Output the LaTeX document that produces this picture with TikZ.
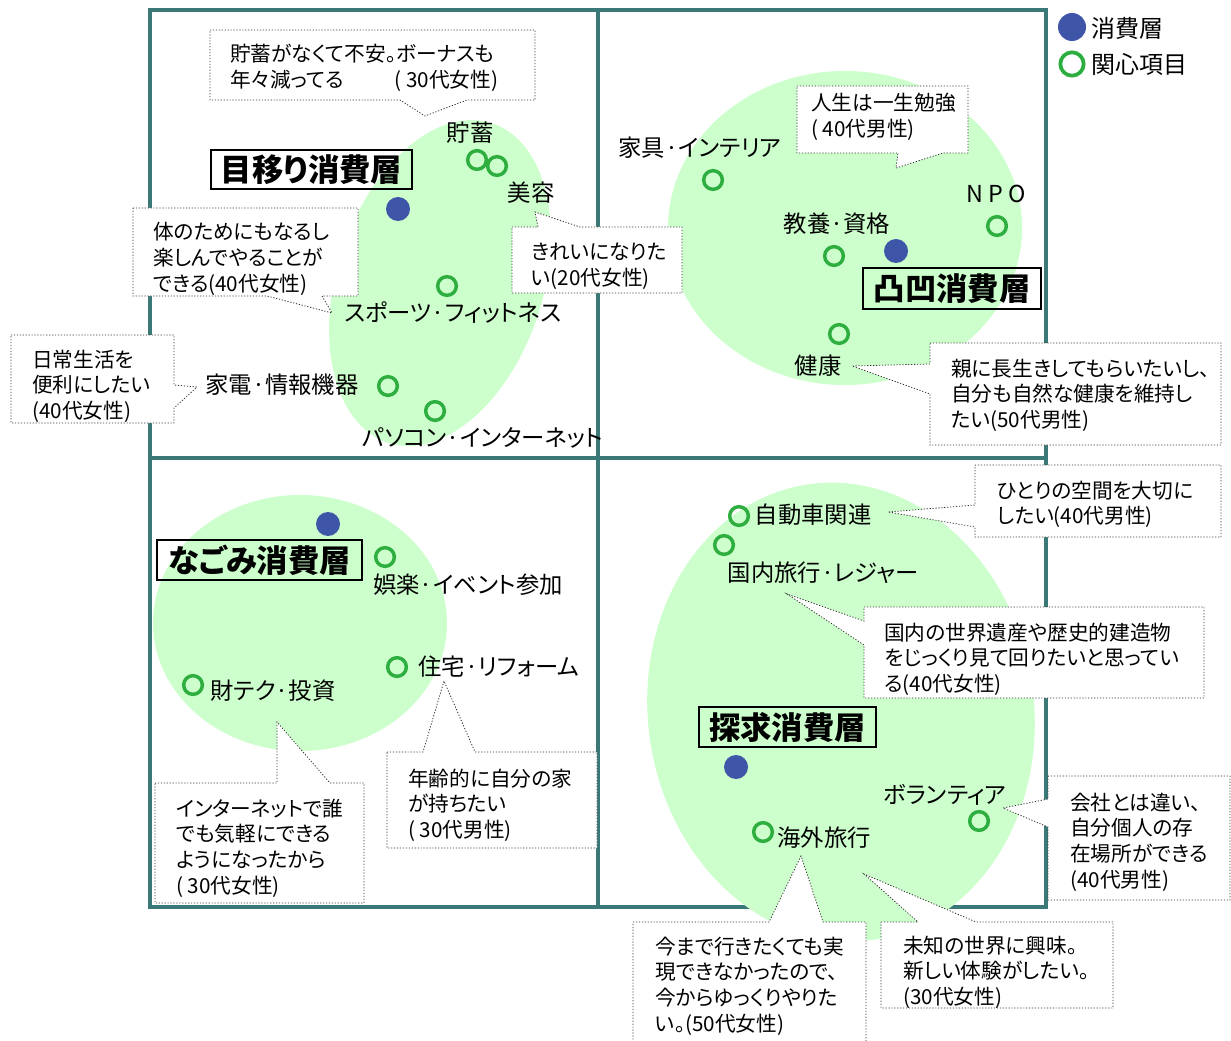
\documentclass[tikz,border=0pt]{standalone}
\usepackage{fontspec}
\setmainfont{Noto Sans CJK JP}[RawFeature=+palt]
\definecolor{frameC}{HTML}{3B7878}
\definecolor{blobC}{HTML}{CCFFCC}
\definecolor{ringC}{HTML}{2EAE3E}
\definecolor{dotC}{HTML}{3F55A8}
\newcommand\calltext[4]{\foreach \ln [count=\k] in {#4}{\node[ctext] (#1-\k) at (#2,#3+25.7*\k-25.7) {\ln};}}
\begin{document}
\begin{tikzpicture}[x=0.75pt,y=-0.75pt,
  frame/.style={draw=frameC, line width=2.4pt},
  blob/.style={fill=blobC},
  dot/.style={circle, fill=dotC, minimum size=18pt, inner sep=0pt},
  ring/.style={circle, draw=ringC, line width=2.6pt, minimum size=14pt, inner sep=0pt},
  lab/.style={font=\fontsize{17.5}{20}\selectfont, inner sep=0pt},
  ttl/.style={draw, line width=1.5pt, font=\bfseries\fontsize{23.5}{26}\selectfont, inner sep=0pt},
  cbox/.style={fill=white, draw=black!80, line width=0.6pt, dash pattern=on 0.9pt off 1.3pt},
  ctext/.style={font=\fontsize{15.5}{19}\selectfont, inner sep=0pt, anchor=base west},
  leg/.style={font=\fontsize{18}{20}\selectfont, inner sep=0pt, anchor=west}]
\useasboundingbox (0,0) rectangle (1231,1041);
% frame
\draw[frame] (150,10) rectangle (1046,907);
\draw[frame] (598,10) -- (598,907);
\draw[frame] (150,458) -- (1046,458);
% blobs
\fill[blob, rotate around={-18:(440,283)}] (440,283) ellipse [x radius=103, y radius=168];
\fill[blob] (845,228) ellipse [x radius=177, y radius=157];
\fill[blob] (300,623) ellipse [x radius=147, y radius=128];
\fill[blob, rotate around={8:(841,712)}] (841,712) ellipse [x radius=193, y radius=230];
% callouts
\draw[cbox] (210,30) -- (535,30) -- (535,100) -- (467,100) -- (425,116) -- (400,100) -- (210,100) -- cycle;
\calltext{c1}{230}{62}{貯蓄がなくて不安。ボーナスも, 年々減ってる\hspace{38pt}( 30代女性)}
\draw[cbox] (133,208) -- (358,208) -- (358,296) -- (322,296) -- (332,313) -- (267,296) -- (133,296) -- cycle;
\calltext{c2}{153}{240}{体のためにもなるし, 楽しんでやることが, できる(40代女性)}
\draw[cbox] (512,227) -- (538,227) -- (535,212) -- (580,227) -- (682,227) -- (682,293) -- (512,293) -- cycle;
\calltext{c3}{531}{260}{きれいになりた, い(20代女性)}
\draw[cbox] (11,335) -- (174,335) -- (174,385) -- (197,387) -- (174,408) -- (174,423) -- (11,423) -- cycle;
\calltext{c4}{32}{367}{日常生活を, 便利にしたい, (40代女性)}
\draw[cbox] (797,86) -- (968,86) -- (968,153) -- (943,153) -- (896,168) -- (898,153) -- (797,153) -- cycle;
\calltext{c5}{811}{111}{人生は一生勉強, ( 40代男性)}
\draw[cbox] (930,343) -- (1221,343) -- (1221,445) -- (930,445) -- (930,394) -- (852,366) -- (930,364) -- cycle;
\calltext{c6}{951}{376}{親に長生きしてもらいたいし、, 自分も自然な健康を維持し, たい(50代男性)}
\draw[cbox] (975,465) -- (1221,465) -- (1221,537) -- (975,537) -- (975,527) -- (888,512) -- (975,505) -- cycle;
\calltext{c7}{997}{498}{ひとりの空間を大切に, したい(40代男性)}
\draw[cbox] (864,607) -- (1204,607) -- (1204,698) -- (864,698) -- (864,645) -- (787,594) -- (864,621) -- cycle;
\calltext{c8}{884}{640}{国内の世界遺産や歴史的建造物, をじっくり見て回りたいと思ってい, る(40代女性)}
\draw[cbox] (387,752) -- (423,752) -- (444,681) -- (475,752) -- (597,752) -- (597,848) -- (387,848) -- cycle;
\calltext{c9}{408}{786}{年齢的に自分の家, が持ちたい, ( 30代男性)}
\draw[cbox] (155,783) -- (277,783) -- (277,722) -- (330,783) -- (364,783) -- (364,903) -- (155,903) -- cycle;
\calltext{c10}{176}{816}{インターネットで誰, でも気軽にできる, ようになったから, ( 30代女性)}
\draw[cbox] (1048,776) -- (1230,776) -- (1230,900) -- (1048,900) -- (1048,827) -- (1003,808) -- (1048,799) -- cycle;
\calltext{c11}{1070}{810}{会社とは違い、, 自分個人の存, 在場所ができる, (40代男性)}
\draw[cbox] (633,922) -- (769,922) -- (801,856) -- (823,922) -- (866,922) -- (866,1045) -- (633,1045) -- cycle;
\calltext{c12}{655}{954}{今まで行きたくても実, 現できなかったので、, 今からゆっくりやりた, い。(50代女性)}
\draw[cbox] (881,922) -- (918,922) -- (864,874) -- (976,922) -- (1113,922) -- (1113,1008) -- (881,1008) -- cycle;
\calltext{c13}{903}{953}{未知の世界に興味。, 新しい体験がしたい。, (30代女性)}
% consumer layer dots
\node[dot] (d1) at (398,209) {};
\node[dot] (d2) at (896,251) {};
\node[dot] (d3) at (328,524) {};
\node[dot] (d4) at (736,767) {};
% interest rings
\node[ring] (r1) at (477,160) {};
\node[ring] (r2) at (497,166) {};
\node[ring] (r3) at (447,286) {};
\node[ring] (r4) at (388,386) {};
\node[ring] (r5) at (435,411) {};
\node[ring] (r6) at (713,180) {};
\node[ring] (r7) at (834,256) {};
\node[ring] (r8) at (997,226) {};
\node[ring] (r9) at (839,334) {};
\node[ring] (r10) at (385,557) {};
\node[ring] (r11) at (397,667) {};
\node[ring] (r12) at (193,685) {};
\node[ring] (r13) at (739,516) {};
\node[ring] (r14) at (724,545) {};
\node[ring] (r15) at (763,832) {};
\node[ring] (r16) at (979,821) {};
% labels
\node[lab] (l1) at (470,133) {貯蓄};
\node[lab] (l2) at (531,193) {美容};
\node[lab] (l3) at (453,313) {スポーツ·フィットネス};
\node[lab] (l4) at (282,385) {家電·情報機器};
\node[lab] (l5) at (483,438) {パソコン·インターネット};
\node[lab] (l6) at (700,148) {家具·インテリア};
\node[lab] (l7) at (837,224) {教養·資格};
\node[lab] (l8) at (996,194) {N P O};
\node[lab] (l9) at (818,366) {健康};
\node[lab] (l10) at (468,585) {娯楽·イベント参加};
\node[lab] (l11) at (499,667) {住宅·リフォーム};
\node[lab] (l12) at (273,691) {財テク·投資};
\node[lab] (l13) at (813,515) {自動車関連};
\node[lab] (l14) at (823,573) {国内旅行·レジャー};
\node[lab] (l15) at (824,838) {海外旅行};
\node[lab] (l16) at (945,795) {ボランティア};
% titles
\node[ttl, minimum width=150.75pt, minimum height=29.25pt] (t1) at (311.5,169.5) {目移り消費層};
\node[ttl, minimum width=133.5pt, minimum height=30.75pt] (t2) at (952,288.5) {凸凹消費層};
\node[ttl, minimum width=153.75pt, minimum height=30pt] (t3) at (259.5,560) {なごみ消費層};
\node[ttl, minimum width=132.75pt, minimum height=30pt] (t4) at (787.5,727) {探求消費層};
% legend
\node[dot, minimum size=21pt] (ld) at (1072,27) {};
\node[leg] (lt1) at (1091,28) {消費層};
\node[ring, minimum size=17.5pt, line width=2.8pt] (lr) at (1072,64) {};
\node[leg] (lt2) at (1091,64) {関心項目};
\end{tikzpicture}
\end{document}
